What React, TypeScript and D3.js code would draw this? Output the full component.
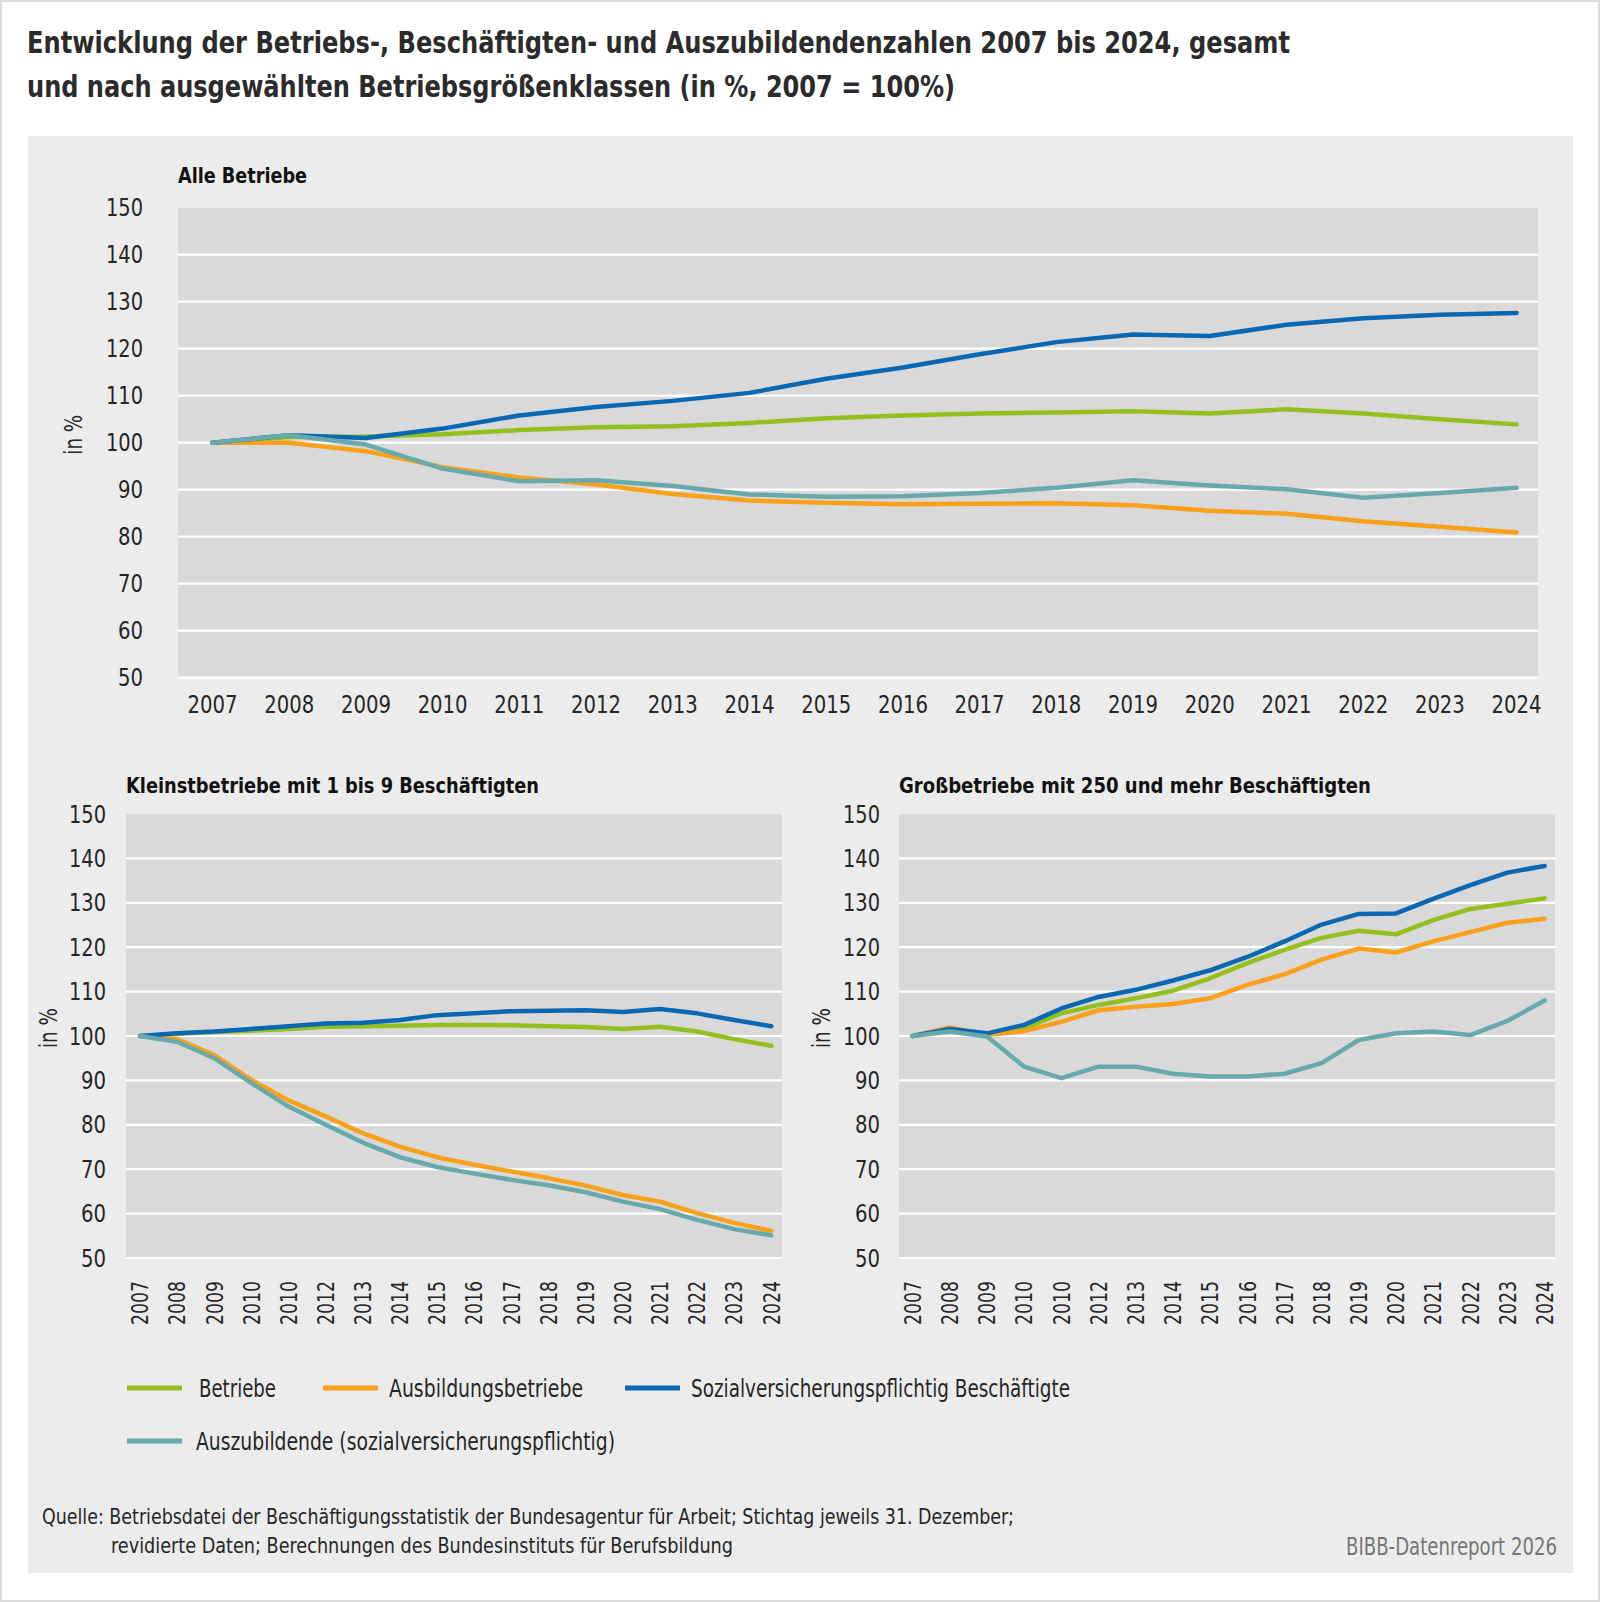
import { useEffect, useRef } from 'react';
import * as d3 from 'd3';

const years = [2007, 2008, 2009, 2010, 2011, 2012, 2013, 2014, 2015, 2016, 2017, 2018, 2019, 2020, 2021, 2022, 2023, 2024];
const topTickLabels = ['2007', '2008', '2009', '2010', '2011', '2012', '2013', '2014', '2015', '2016', '2017', '2018', '2019', '2020', '2021', '2022', '2023', '2024'];
// the small charts in the original label 2011 as "2010"
const smallTickLabels = ['2007', '2008', '2009', '2010', '2010', '2012', '2013', '2014', '2015', '2016', '2017', '2018', '2019', '2020', '2021', '2022', '2023', '2024'];
const yTicks = [50, 60, 70, 80, 90, 100, 110, 120, 130, 140, 150];

const seriesNames = ['Betriebe', 'Ausbildungsbetriebe', 'Sozialversicherungspflichtig Beschäftigte', 'Auszubildende (sozialversicherungspflichtig)'];
const seriesColors = ['#93c01f', '#f9a11b', '#0a68b3', '#68aaab'];

// Alle Betriebe
const alleBetriebe = [100, 101.2, 101.3, 101.8, 102.7, 103.3, 103.5, 104.2, 105.2, 105.8, 106.2, 106.4, 106.7, 106.2, 107.1, 106.2, 105.0, 103.9];
const alleAusbildungsbetriebe = [100, 100.0, 98.2, 94.8, 92.6, 91.1, 89.1, 87.7, 87.2, 86.9, 87.0, 87.1, 86.7, 85.5, 84.9, 83.3, 82.1, 80.9];
const alleBeschaeftigte = [100, 101.6, 101.0, 103.0, 105.8, 107.6, 108.9, 110.6, 113.6, 116.0, 118.8, 121.4, 123.0, 122.7, 125.1, 126.5, 127.2, 127.6];
const alleAuszubildende = [100, 101.6, 99.6, 94.5, 91.8, 92.0, 90.8, 89.0, 88.5, 88.6, 89.3, 90.4, 92.0, 90.9, 90.1, 88.3, 89.3, 90.4];

// Kleinstbetriebe 1-9
const kleinBetriebe = [100, 100.5, 100.9, 101.2, 101.6, 102.1, 102.2, 102.3, 102.5, 102.5, 102.4, 102.2, 102.0, 101.6, 102.1, 101.0, 99.3, 97.8];
const kleinAusbildungsbetriebe = [100, 99.3, 95.7, 90.1, 85.5, 81.9, 78.1, 75.1, 72.7, 71.0, 69.5, 68.0, 66.3, 64.2, 62.7, 60.1, 57.9, 56.1];
const kleinBeschaeftigte = [100, 100.6, 101.0, 101.6, 102.2, 102.8, 103.0, 103.6, 104.7, 105.1, 105.6, 105.7, 105.8, 105.4, 106.1, 105.1, 103.6, 102.2];
const kleinAuszubildende = [100, 98.7, 95.0, 89.4, 84.1, 80.0, 76.0, 72.7, 70.5, 69.0, 67.6, 66.4, 64.8, 62.7, 61.0, 58.6, 56.5, 55.1];

// Großbetriebe 250+
const grossBetriebe = [100, 101.5, 100.4, 101.7, 105.1, 107.0, 108.5, 110.2, 113.0, 116.4, 119.4, 122.1, 123.7, 122.9, 126.1, 128.6, 129.8, 131.0];
const grossAusbildungsbetriebe = [100, 101.9, 100.2, 101.1, 103.2, 105.8, 106.6, 107.2, 108.5, 111.5, 113.9, 117.2, 119.7, 118.8, 121.3, 123.4, 125.5, 126.4];
const grossBeschaeftigte = [100, 101.6, 100.6, 102.5, 106.2, 108.8, 110.4, 112.5, 114.8, 117.8, 121.3, 125.1, 127.5, 127.6, 130.9, 134.0, 136.8, 138.3];
const grossAuszubildende = [100, 101.0, 99.9, 93.1, 90.5, 93.1, 93.1, 91.5, 90.9, 90.9, 91.5, 93.9, 99.1, 100.6, 101.0, 100.2, 103.4, 108.0];

const FONT = "'DejaVu Sans Condensed', 'DejaVu Sans', sans-serif";
const TEXT = '#262626';

type Svg = d3.Selection<SVGSVGElement, unknown, null, undefined>;

// condensed text helper: squeezes to the measured width of the original
function fitText(svg: any, str: string, x: number, y: number, w: number, size: number, opts: { bold?: boolean; fill?: string; anchor?: string } = {}) {
  return svg.append('text')
    .attr('x', x)
    .attr('y', y)
    .attr('text-anchor', opts.anchor || 'start')
    .attr('textLength', w)
    .attr('lengthAdjust', 'spacingAndGlyphs')
    .style('font-family', FONT)
    .style('font-size', size + 'px')
    .style('font-weight', opts.bold ? 'bold' : 'normal')
    .style('fill', opts.fill || TEXT)
    .text(str);
}

interface PanelCfg {
  title: string;
  titleWidth: number;
  series: number[][];
  labels: string[];
  plot: { x0: number; x1: number; yTop: number; yBot: number; p0: number; p1: number };
  yLabelX: number;
  unitX: number;
  titleY: number;
  rotated: boolean;
}

function drawPanel(svg: Svg, cfg: PanelCfg) {
  const { plot } = cfg;
  const g = svg.append('g');

  const x = d3.scalePoint<number>().domain(years).range([plot.p0, plot.p1]);
  const y = d3.scaleLinear().domain([50, 150]).range([plot.yBot, plot.yTop]);

  g.append('rect')
    .attr('x', plot.x0)
    .attr('y', plot.yTop)
    .attr('width', plot.x1 - plot.x0)
    .attr('height', plot.yBot - plot.yTop)
    .attr('fill', '#d9d9d9');

  // grid
  g.selectAll('.grid')
    .data(yTicks.filter(t => t < 150))
    .enter().append('line')
    .attr('x1', plot.x0)
    .attr('x2', plot.x1)
    .attr('y1', d => y(d))
    .attr('y2', d => y(d))
    .attr('stroke', '#fff')
    .attr('stroke-width', 2.2);

  // y tick labels
  g.selectAll('.ytick')
    .data(yTicks)
    .enter().append('text')
    .attr('x', cfg.yLabelX)
    .attr('y', d => y(d))
    .attr('dy', '0.36em')
    .attr('text-anchor', 'end')
    .attr('textLength', d => (d >= 100 ? 37 : 25))
    .attr('lengthAdjust', 'spacingAndGlyphs')
    .style('font-family', FONT)
    .style('font-size', '24px')
    .style('fill', TEXT)
    .text(d => d);

  // x tick labels
  if (cfg.rotated) {
    g.selectAll('.xtick')
      .data(years)
      .enter().append('text')
      .attr('transform', d => `translate(${x(d)},${plot.yBot + 23}) rotate(-90)`)
      .attr('dy', '0.36em')
      .attr('text-anchor', 'end')
      .attr('textLength', 44)
      .attr('lengthAdjust', 'spacingAndGlyphs')
      .style('font-family', FONT)
      .style('font-size', '23px')
      .style('fill', TEXT)
      .text((d, i) => cfg.labels[i]);
  } else {
    g.selectAll('.xtick')
      .data(years)
      .enter().append('text')
      .attr('x', d => x(d) as number)
      .attr('y', plot.yBot + 35)
      .attr('text-anchor', 'middle')
      .attr('textLength', 50)
      .attr('lengthAdjust', 'spacingAndGlyphs')
      .style('font-family', FONT)
      .style('font-size', '25px')
      .style('fill', TEXT)
      .text((d, i) => cfg.labels[i]);
  }

  // unit label
  g.append('text')
    .attr('transform', `translate(${cfg.unitX},${y(100) - 8}) rotate(-90)`)
    .attr('text-anchor', 'middle')
    .attr('dy', '0.36em')
    .attr('textLength', 40)
    .attr('lengthAdjust', 'spacingAndGlyphs')
    .style('font-family', FONT)
    .style('font-size', '24px')
    .style('fill', TEXT)
    .text('in %');

  // panel title
  fitText(g, cfg.title, plot.x0, cfg.titleY, cfg.titleWidth, 22, { bold: true, fill: '#111' });

  const line = d3.line<number>()
    .x((d, i) => x(years[i]) as number)
    .y(d => y(d));

  cfg.series.forEach((s, i) => {
    g.append('path')
      .datum(s)
      .attr('fill', 'none')
      .attr('stroke', seriesColors[i])
      .attr('stroke-width', 4.5)
      .attr('stroke-linejoin', 'round')
      .attr('stroke-linecap', 'round')
      .attr('d', line);
  });
}

export default function App() {
  const svgRef = useRef<SVGSVGElement>(null);

  useEffect(() => {
    const svg = d3.select(svgRef.current!);
    svg.selectAll('*').remove();

    // frame
    svg.append('rect')
      .attr('x', 1).attr('y', 1)
      .attr('width', 1598).attr('height', 1600)
      .attr('fill', '#fff')
      .attr('stroke', '#dcdcdc')
      .attr('stroke-width', 2);

    svg.append('rect')
      .attr('x', 28).attr('y', 136)
      .attr('width', 1545).attr('height', 1437)
      .attr('fill', '#ececec');

    // heading
    fitText(svg, 'Entwicklung der Betriebs-, Beschäftigten- und Auszubildendenzahlen 2007 bis 2024, gesamt', 27, 53, 1263, 31, { bold: true, fill: '#2b2b2b' });
    fitText(svg, 'und nach ausgewählten Betriebsgrößenklassen (in %, 2007 = 100%)', 27, 97, 928, 31, { bold: true, fill: '#2b2b2b' });

    drawPanel(svg, {
      title: 'Alle Betriebe',
      titleWidth: 129,
      series: [alleBetriebe, alleAusbildungsbetriebe, alleBeschaeftigte, alleAuszubildende],
      labels: topTickLabels,
      plot: { x0: 178, x1: 1538, yTop: 207.7, yBot: 677.7, p0: 212.5, p1: 1516.6 },
      yLabelX: 143,
      unitX: 73,
      titleY: 183,
      rotated: false
    });

    drawPanel(svg, {
      title: 'Kleinstbetriebe mit 1 bis 9 Beschäftigten',
      titleWidth: 413,
      series: [kleinBetriebe, kleinAusbildungsbetriebe, kleinBeschaeftigte, kleinAuszubildende],
      labels: smallTickLabels,
      plot: { x0: 126, x1: 782, yTop: 814, yBot: 1258, p0: 140, p1: 771.3 },
      yLabelX: 106,
      unitX: 48,
      titleY: 793,
      rotated: true
    });

    drawPanel(svg, {
      title: 'Großbetriebe mit 250 und mehr Beschäftigten',
      titleWidth: 472,
      series: [grossBetriebe, grossAusbildungsbetriebe, grossBeschaeftigte, grossAuszubildende],
      labels: smallTickLabels,
      plot: { x0: 899, x1: 1555, yTop: 814, yBot: 1258, p0: 912.7, p1: 1544.6 },
      yLabelX: 880,
      unitX: 821,
      titleY: 793,
      rotated: true
    });

    // legend
    const legendPos = [
      { x: 127, y: 1388, w: 77 },
      { x: 323, y: 1388, w: 194 },
      { x: 625, y: 1388, w: 379 },
      { x: 127, y: 1441, w: 419 }
    ];
    seriesNames.forEach((name, i) => {
      const p = legendPos[i];
      svg.append('line')
        .attr('x1', p.x).attr('x2', p.x + 55)
        .attr('y1', p.y).attr('y2', p.y)
        .attr('stroke', seriesColors[i])
        .attr('stroke-width', 5);
      fitText(svg, name, p.x + (i === 3 ? 69 : i === 0 ? 72 : 66), p.y + 9, p.w, 24);
    });

    // source
    fitText(svg, 'Quelle: Betriebsdatei der Beschäftigungsstatistik der Bundesagentur für Arbeit; Stichtag jeweils 31. Dezember;', 42, 1524, 972, 22);
    fitText(svg, 'revidierte Daten; Berechnungen des Bundesinstituts für Berufsbildung', 111, 1553, 622, 22);

    fitText(svg, 'BIBB-Datenreport 2026', 1557, 1555, 211, 24, { anchor: 'end', fill: '#777' });
  }, []);

  return (
    <div style={{ position: 'absolute', left: 0, top: 0 }}>
      <svg ref={svgRef} width={1600} height={1602} style={{ display: 'block' }}></svg>
    </div>
  );
}
